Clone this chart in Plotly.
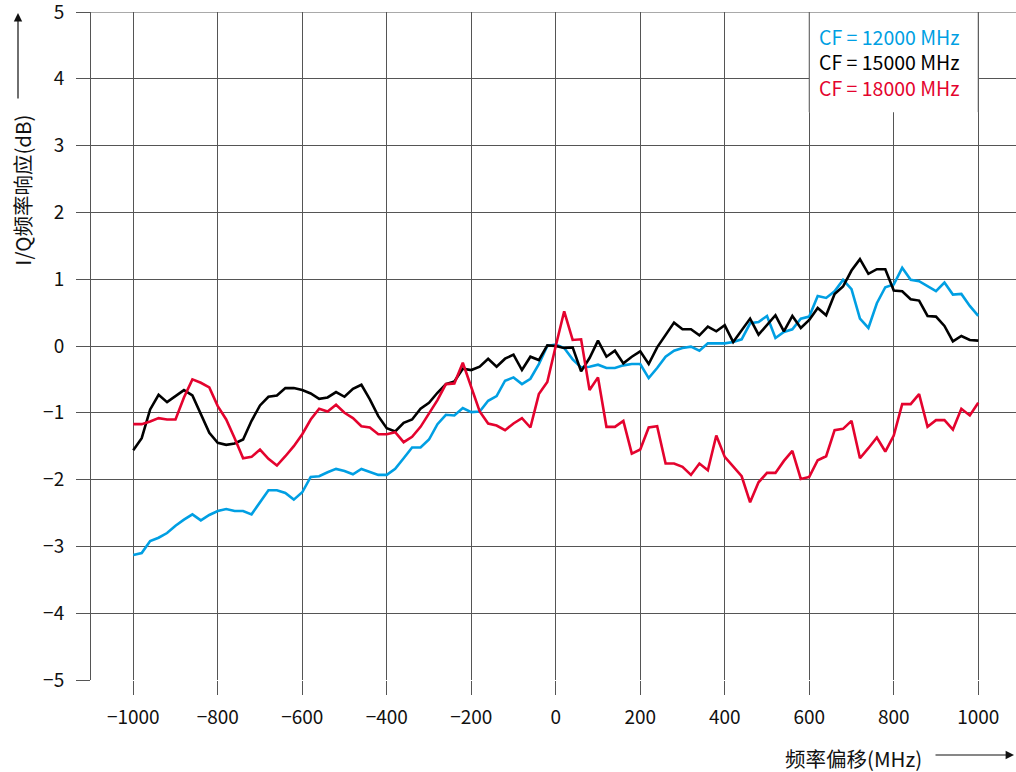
import plotly.graph_objects as go

freq = list(range(-1000, 1001, 20))

cf12000 = [-3.13, -3.10, -2.92, -2.87, -2.80, -2.69, -2.60, -2.52, -2.61, -2.53,
           -2.47, -2.44, -2.47, -2.47, -2.52, -2.34, -2.16, -2.16, -2.20, -2.30,
           -2.19, -1.96, -1.95, -1.89, -1.84, -1.87, -1.92, -1.84, -1.88, -1.93,
           -1.93, -1.84, -1.68, -1.52, -1.52, -1.40, -1.17, -1.03, -1.04, -0.93,
           -0.99, -0.98, -0.82, -0.75, -0.52, -0.47, -0.57, -0.49, -0.27, 0.00,
           0.02, -0.03, -0.20, -0.32, -0.31, -0.28, -0.33, -0.33, -0.29, -0.27,
           -0.27, -0.48, -0.33, -0.16, -0.07, -0.03, -0.01, -0.07, 0.04, 0.04,
           0.04, 0.06, 0.10, 0.34, 0.36, 0.45, 0.12, 0.21, 0.25, 0.41,
           0.44, 0.75, 0.72, 0.82, 0.99, 0.85, 0.41, 0.27, 0.64, 0.88,
           0.92, 1.17, 0.99, 0.97, 0.90, 0.82, 0.95, 0.77, 0.78, 0.60,
           0.45]

cf15000 = [-1.56, -1.38, -0.95, -0.73, -0.84, -0.75, -0.66, -0.74, -1.03, -1.30,
           -1.45, -1.48, -1.46, -1.40, -1.12, -0.89, -0.76, -0.74, -0.63, -0.63,
           -0.66, -0.71, -0.79, -0.77, -0.69, -0.76, -0.64, -0.58, -0.80, -1.05,
           -1.23, -1.28, -1.15, -1.10, -0.94, -0.85, -0.70, -0.57, -0.53, -0.34,
           -0.36, -0.31, -0.19, -0.31, -0.19, -0.13, -0.36, -0.16, -0.21, 0.01,
           0.00, -0.03, -0.02, -0.38, -0.18, 0.08, -0.16, -0.07, -0.26, -0.16,
           -0.08, -0.27, -0.02, 0.16, 0.35, 0.25, 0.25, 0.16, 0.29, 0.22,
           0.31, 0.06, 0.24, 0.41, 0.17, 0.31, 0.46, 0.22, 0.45, 0.27,
           0.39, 0.57, 0.46, 0.78, 0.89, 1.13, 1.30, 1.08, 1.15, 1.15,
           0.83, 0.82, 0.70, 0.68, 0.45, 0.44, 0.30, 0.07, 0.15, 0.09,
           0.08]

cf18000 = [-1.17, -1.17, -1.13, -1.08, -1.10, -1.10, -0.77, -0.50, -0.55, -0.62,
           -0.90, -1.10, -1.38, -1.68, -1.66, -1.55, -1.69, -1.79, -1.65, -1.50,
           -1.32, -1.10, -0.94, -0.98, -0.88, -1.00, -1.08, -1.20, -1.22, -1.32,
           -1.32, -1.29, -1.44, -1.36, -1.21, -1.02, -0.81, -0.57, -0.56, -0.25,
           -0.62, -0.98, -1.16, -1.19, -1.26, -1.16, -1.08, -1.22, -0.72, -0.54,
           0.00, 0.52, 0.09, 0.10, -0.66, -0.47, -1.21, -1.21, -1.12, -1.61,
           -1.55, -1.22, -1.20, -1.76, -1.76, -1.81, -1.93, -1.76, -1.86, -1.34,
           -1.66, -1.81, -1.95, -2.34, -2.04, -1.90, -1.90, -1.72, -1.57, -1.99,
           -1.96, -1.71, -1.65, -1.26, -1.24, -1.12, -1.68, -1.53, -1.37, -1.58,
           -1.34, -0.87, -0.87, -0.72, -1.21, -1.11, -1.11, -1.25, -0.94, -1.04,
           -0.85]

series_names = ["CF = 12000 MHz", "CF = 15000 MHz", "CF = 18000 MHz"]
series_colors = ["#009FE3", "#000000", "#E4032E"]
series_values = [cf12000, cf15000, cf18000]

x_ticks = list(range(-1000, 1001, 200))
y_ticks = list(range(-5, 6, 1))

FONT = "Noto Sans CJK SC, Noto Sans, sans-serif"
GRID = "#555555"

H_PLOT = 668          # plot area from y=12 (value 5) to y=680 (value -5)
X_RIGHT = -1100 + 925 / 0.4225

def py(pix):
    return (680 - pix) / H_PLOT

fig = go.Figure()
for name, color, vals in zip(series_names, series_colors, series_values):
    fig.add_trace(go.Scatter(x=freq, y=vals, mode="lines", name=name,
                             line=dict(color=color, width=2.6), showlegend=False))

# top grid line at y = 5 drawn explicitly as a safety net
fig.add_shape(type="line", xref="x", yref="y", x0=-1100, x1=X_RIGHT, y0=5, y1=5,
              line=dict(color=GRID, width=1), layer="below")

# White box behind the legend text
fig.add_shape(type="rect", xref="x", yref="y", x0=600, x1=1000, y0=3.5, y1=5,
              fillcolor="white", line=dict(width=0), layer="above")
for xv in (600, 1000):
    fig.add_shape(type="line", xref="x", yref="y", x0=xv, x1=xv, y0=3.5, y1=5,
                  line=dict(color=GRID, width=1), layer="above")
fig.add_shape(type="line", xref="x", yref="y", x0=600, x1=1000, y0=5, y1=5,
              line=dict(color=GRID, width=1), layer="above")

legend_text = "<br>".join(
    f"<span style='color:{c}'>{n}</span>" for n, c in zip(series_names, series_colors))
fig.add_annotation(x=618, y=py(62), xref="x", yref="paper",
                   text=legend_text, showarrow=False, align="left",
                   xanchor="left", yanchor="middle",
                   font=dict(family=FONT, size=19.5, color="#000"))

# Axis titles with arrows
fig.add_annotation(x=-0.075, y=py(190), xref="paper", yref="paper",
                   text="I/Q频率响应(dB)", textangle=-90, showarrow=False,
                   xanchor="center", yanchor="middle",
                   font=dict(family=FONT, size=20.5, color="#111"))
fig.add_annotation(x=(18 - 91) / 925, y=py(13), xref="paper", yref="paper",
                   text="", showarrow=True, ax=0, ay=87, arrowhead=2, arrowsize=1.4,
                   arrowwidth=1.2, arrowcolor="#111", standoff=0, startstandoff=0)
fig.add_annotation(x=(853 - 91) / 925, y=py(758), xref="paper", yref="paper",
                   text="频率偏移(MHz)", showarrow=False,
                   xanchor="center", yanchor="middle",
                   font=dict(family=FONT, size=20.5, color="#111"))
fig.add_annotation(x=(1014 - 91) / 925, y=py(755), xref="paper", yref="paper",
                   text="", showarrow=True, ax=-80, ay=0, arrowhead=2, arrowsize=1.4,
                   arrowwidth=1.2, arrowcolor="#111", standoff=0, startstandoff=0)

fig.update_xaxes(range=[-1100, X_RIGHT], tickvals=x_ticks,
                 ticktext=[("\u2212" + str(-v)) if v < 0 else str(v) for v in x_ticks],
                 showgrid=True, gridcolor=GRID, gridwidth=1,
                 ticks="outside", ticklen=14, tickcolor=GRID, tickwidth=1,
                 ticklabelstandoff=6, automargin=False,
                 zeroline=False, showline=False,
                 tickfont=dict(family=FONT, size=19, color="#111"))
fig.update_yaxes(range=[-5, 5], tickvals=y_ticks,
                 ticktext=[("\u2212" + str(-v)) if v < 0 else str(v) for v in y_ticks],
                 showgrid=True, gridcolor=GRID, gridwidth=1,
                 ticks="outside", ticklen=14, tickcolor=GRID, tickwidth=1,
                 ticklabelstandoff=8, ticklabeloverflow="allow", automargin=False,
                 zeroline=False, showline=True, linecolor=GRID, linewidth=1, mirror=False,
                 tickfont=dict(family=FONT, size=19, color="#111"))

fig.update_layout(width=1016, height=772, margin=dict(l=91, r=0, t=12, b=92),
                  plot_bgcolor="white", paper_bgcolor="white",
                  font=dict(family=FONT))

fig.write_html("out.html")
